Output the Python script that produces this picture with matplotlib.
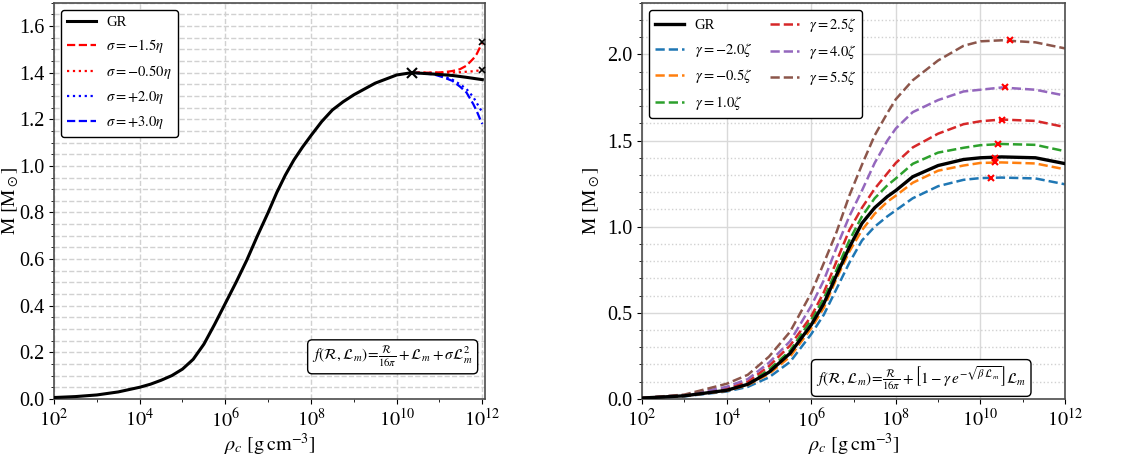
import numpy as np
import matplotlib
matplotlib.use('Agg')
import matplotlib.pyplot as plt
from matplotlib.ticker import MultipleLocator, FixedLocator, NullFormatter

plt.rcParams['font.family'] = 'serif'
plt.rcParams['font.serif'] = ['Liberation Serif', 'DejaVu Serif']
plt.rcParams['mathtext.fontset'] = 'stix'

# ---- left panel: f = R/16pi + Lm + sigma Lm^2 ----
logrho_gr_left = [2, 2.5, 3, 3.5, 4, 4.25, 4.5, 4.75, 5, 5.25, 5.5, 5.75, 6, 6.25, 6.5,
                  6.75, 7, 7.2, 7.4, 7.6, 7.8, 8, 8.25, 8.5, 8.75, 9, 9.5, 10, 10.35,
                  10.86, 11.3, 11.63, 12]
mass_gr_left = [0.006, 0.01, 0.017, 0.03, 0.05, 0.063, 0.08, 0.10, 0.128, 0.17, 0.235,
                0.32, 0.41, 0.50, 0.595, 0.70, 0.80, 0.885, 0.96, 1.025, 1.08,
                1.13, 1.19, 1.24, 1.275, 1.305, 1.355, 1.39, 1.40, 1.394, 1.388, 1.38, 1.37]
gr_max_left = (10.35, 1.40)

logrho_sigma = [10.35, 10.86, 11.09, 11.3, 11.48, 11.63, 11.79, 11.87, 11.95, 12.0]
mass_sigma_m15 = [1.40, 1.40, 1.402, 1.407, 1.415, 1.43, 1.46, 1.48, 1.51, 1.53]
mass_sigma_m05 = [1.40, 1.40, 1.40, 1.401, 1.402, 1.404, 1.406, 1.408, 1.41, 1.411]
mass_sigma_p20 = [1.40, 1.395, 1.385, 1.37, 1.35, 1.33, 1.295, 1.27, 1.245, 1.23]
mass_sigma_p30 = [1.40, 1.393, 1.38, 1.365, 1.34, 1.315, 1.265, 1.235, 1.20, 1.18]
sigma_labels = [r'$\sigma=-1.5\eta$', r'$\sigma=-0.50\eta$', r'$\sigma=+2.0\eta$', r'$\sigma=+3.0\eta$']

# ---- right panel: f = R/16pi + [1 - gamma exp(-sqrt(beta Lm))] Lm ----
logrho_right = [2, 3, 4, 4.5, 5, 5.5, 6, 6.3, 6.6, 6.9, 7.2, 7.5, 7.8, 8.0, 8.4, 9.0,
                9.6, 10.0, 10.5, 11.3, 12.0]
mass_gr_right = [0.005, 0.018, 0.05, 0.085, 0.155, 0.265, 0.43, 0.555, 0.72, 0.88, 1.02,
                 1.11, 1.175, 1.21, 1.29, 1.355, 1.39, 1.40, 1.405, 1.40, 1.366]
mass_g_m20 = [0.004, 0.015, 0.043, 0.07, 0.125, 0.215, 0.376, 0.49, 0.64, 0.79, 0.92,
              1.0, 1.06, 1.095, 1.165, 1.235, 1.272, 1.282, 1.285, 1.28, 1.246]
mass_g_m05 = [0.005, 0.017, 0.047, 0.08, 0.145, 0.245, 0.41, 0.53, 0.70, 0.855, 0.98,
              1.075, 1.145, 1.18, 1.255, 1.325, 1.355, 1.37, 1.373, 1.367, 1.333]
mass_g_p10 = [0.005, 0.019, 0.055, 0.09, 0.17, 0.28, 0.46, 0.585, 0.75, 0.92, 1.06,
              1.165, 1.24, 1.28, 1.365, 1.43, 1.458, 1.473, 1.48, 1.475, 1.438]
mass_g_p25 = [0.005, 0.02, 0.06, 0.10, 0.19, 0.31, 0.48, 0.62, 0.80, 0.98, 1.11,
              1.22, 1.31, 1.37, 1.46, 1.54, 1.595, 1.612, 1.622, 1.614, 1.578]
mass_g_p40 = [0.006, 0.022, 0.07, 0.115, 0.21, 0.335, 0.54, 0.69, 0.88, 1.06, 1.21,
              1.37, 1.50, 1.57, 1.665, 1.735, 1.785, 1.795, 1.808, 1.795, 1.761]
mass_g_p55 = [0.006, 0.025, 0.088, 0.14, 0.245, 0.39, 0.615, 0.79, 0.97, 1.18, 1.36,
              1.53, 1.66, 1.74, 1.85, 1.965, 2.05, 2.076, 2.082, 2.07, 2.035]
gamma_labels = [r'$\gamma=-2.0\zeta$', r'$\gamma=-0.5\zeta$', r'$\gamma=1.0\zeta$',
                r'$\gamma=2.5\zeta$', r'$\gamma=4.0\zeta$', r'$\gamma=5.5\zeta$']
max_log_right = [10.26, 10.34, 10.34, 10.42, 10.5, 10.59, 10.71]
max_mass_right = [1.285, 1.40, 1.373, 1.48, 1.622, 1.81, 2.084]

tick_pos = [1e2, 1e4, 1e6, 1e8, 1e10, 1e12]
tick_lab = [r'$10^{2}$', r'$10^{4}$', r'$10^{6}$', r'$10^{8}$', r'$10^{10}$', r'$10^{12}$']

fig = plt.figure(figsize=(11.25, 4.58), dpi=100)
ax1 = fig.add_axes([0.048, 0.129, 0.383, 0.865])
ax2 = fig.add_axes([0.5707, 0.129, 0.376, 0.865])

def rho(logs):
    return 10.0 ** np.asarray(logs)

# left
ax1.plot(rho(logrho_gr_left), mass_gr_left, color='k', lw=2.2, label='GR', zorder=4)
ax1.plot(rho(logrho_sigma), mass_sigma_m15, color='red', ls='--', lw=1.6, label=sigma_labels[0])
ax1.plot(rho(logrho_sigma), mass_sigma_m05, color='red', ls=':', lw=1.6, label=sigma_labels[1])
ax1.plot(rho(logrho_sigma), mass_sigma_p20, color='blue', ls=':', lw=1.6, label=sigma_labels[2])
ax1.plot(rho(logrho_sigma), mass_sigma_p30, color='blue', ls='--', lw=1.6, label=sigma_labels[3])
ax1.plot(10 ** gr_max_left[0], gr_max_left[1], 'kx', ms=7, mew=1.5, zorder=5)
ax1.plot([10 ** logrho_sigma[-1]] * 2, [mass_sigma_m15[-1], mass_sigma_m05[-1]], 'kx',
         ms=5, mew=1.2, zorder=5, ls='none')

ax1.set_xscale('log')
ax1.set_xlim(1e2, 10 ** 12.06)
ax1.set_ylim(0, 1.7)
ax1.yaxis.set_major_locator(MultipleLocator(0.2))
ax1.yaxis.set_minor_locator(MultipleLocator(0.05))
ax1.grid(which='major', ls='--', color='0.82', lw=1.0)
ax1.grid(which='minor', axis='y', ls='--', color='0.82', lw=1.0)
leg1 = ax1.legend(loc='upper left', fontsize=10.5, handlelength=2.0, handletextpad=0.7,
                  labelspacing=0.55, fancybox=True, framealpha=1, edgecolor='k')
leg1.get_frame().set_linewidth(1.0)
ax1.text(0.786, 0.075, r'$f(\mathcal{R},\mathcal{L}_m)\!=\!\frac{\mathcal{R}}{16\pi}+\mathcal{L}_m+\sigma\mathcal{L}_m^2$',
         transform=ax1.transAxes, ha='center', va='bottom', fontsize=11,
         bbox=dict(boxstyle='round,pad=0.3', fc='w', ec='k', lw=1.0))

# right
colors = ['tab:blue', 'tab:orange', 'tab:green', 'tab:red', 'tab:purple', 'tab:brown']
series = [mass_g_m20, mass_g_m05, mass_g_p10, mass_g_p25, mass_g_p40, mass_g_p55]
ax2.plot(rho(logrho_right), mass_gr_right, color='k', lw=2.4, label='GR', zorder=4)
for m, c, lab in zip(series, colors, gamma_labels):
    ax2.plot(rho(logrho_right), m, color=c, ls='--', lw=1.8, label=lab)
ax2.plot(rho(max_log_right), max_mass_right, 'x', color='red', ms=5, mew=1.5, ls='none', zorder=6)

ax2.set_xscale('log')
ax2.set_xlim(1e2, 1e12)
ax2.set_ylim(0, 2.3)
ax2.yaxis.set_major_locator(MultipleLocator(0.5))
ax2.yaxis.set_minor_locator(MultipleLocator(0.1))
ax2.grid(which='major', ls='-', color='0.85', lw=1.0)
ax2.grid(which='minor', axis='y', ls=':', color='0.82', lw=1.0)
leg2 = ax2.legend(loc='upper left', ncol=2, fontsize=10.5, handlelength=2.0, handletextpad=0.7,
                  labelspacing=0.6, fancybox=True, framealpha=1, edgecolor='k',
                  columnspacing=1.2)
leg2.get_frame().set_linewidth(1.0)
ax2.text(0.66, 0.018,
         r'$f(\mathcal{R},\mathcal{L}_m)\!=\!\frac{\mathcal{R}}{16\pi}+\left[1-\gamma\, e^{-\sqrt{\beta\,\mathcal{L}_m}}\right]\mathcal{L}_m$',
         transform=ax2.transAxes, ha='center', va='bottom', fontsize=11,
         bbox=dict(boxstyle='round,pad=0.3', fc='w', ec='k', lw=1.0))

for ax in (ax1, ax2):
    ax.xaxis.set_major_locator(FixedLocator(tick_pos))
    ax.set_xticklabels(tick_lab)
    ax.xaxis.set_minor_locator(FixedLocator([1e3, 1e5, 1e7, 1e9, 1e11]))
    ax.xaxis.set_minor_formatter(NullFormatter())
    ax.tick_params(labelsize=14.5)
    ax.set_axisbelow(True)
    for s in ax.spines.values():
        s.set_color('0.3')
        s.set_linewidth(1.2)
    ax.set_xlabel(r'$\rho_c\ [\mathrm{g\,cm^{-3}}]$', fontsize=14.5, labelpad=0)
    ax.set_ylabel(r'$\mathrm{M}\ [\mathrm{M}_\odot]$', fontsize=14)

ax1.yaxis.set_label_coords(-0.077, 0.5)
ax2.yaxis.set_label_coords(-0.095, 0.5)

fig.savefig('out.png', dpi=100)
